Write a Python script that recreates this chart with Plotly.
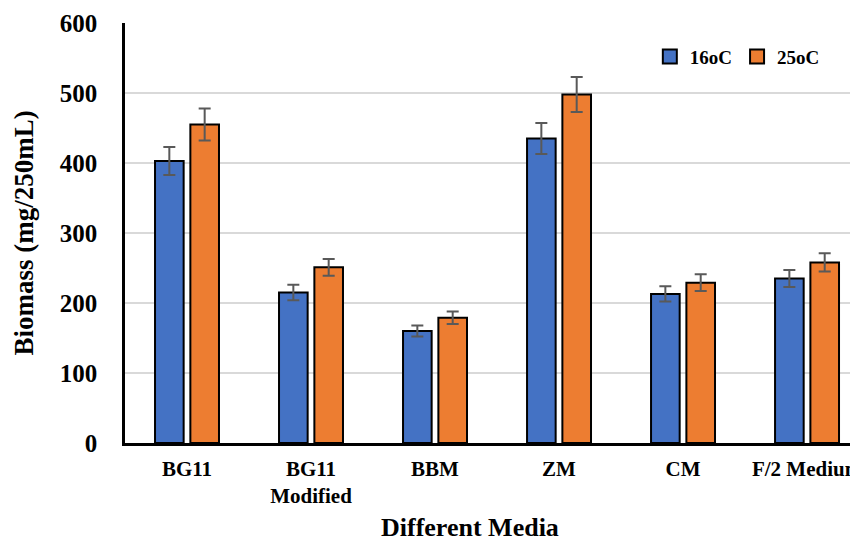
import plotly.graph_objects as go

categories = ["BG11", "BG11<br>Modified", "BBM", "ZM", "CM", "F/2 Medium"]
biomass_16 = [403, 215, 160, 435, 213, 235]
err_16 = [20, 11, 8, 22, 11, 12]
biomass_25 = [455, 251, 179, 498, 229, 258]
err_25 = [23, 12, 9, 25, 12, 13]
series_names = ["16oC", "25oC"]
y_ticks = [0, 100, 200, 300, 400, 500, 600]
x_title = "Different Media"
y_title = "Biomass (mg/250mL)"

BLUE = "#4472C4"
ORANGE = "#ED7D31"
FONT = "Liberation Serif"

fig = go.Figure()
for name, vals, errs, col in [(series_names[0], biomass_16, err_16, BLUE),
                              (series_names[1], biomass_25, err_25, ORANGE)]:
    fig.add_trace(go.Bar(
        x=categories, y=vals, name=name, showlegend=False,
        marker=dict(color=col, line=dict(color="black", width=2)),
        error_y=dict(type="data", array=errs, visible=True,
                     color="#595959", thickness=2, width=6),
    ))
    fig.add_trace(go.Scatter(
        x=[None], y=[None], mode="markers", name=name,
        marker=dict(symbol="square", size=14, color=col,
                    line=dict(color="black", width=2)),
    ))

fig.add_annotation(
    text=f"<b>{x_title}</b>", xref="paper", yref="paper",
    x=0.4707, y=-0.202, xanchor="center", yanchor="middle",
    showarrow=False, font=dict(size=26, family=FONT, color="black"),
)

fig.update_layout(
    width=850, height=533,
    margin=dict(l=117, r=0, t=15, b=98),
    paper_bgcolor="white", plot_bgcolor="white",
    barmode="group", bargap=0.43, bargroupgap=0.19,
    font=dict(family=FONT, color="black"),
    legend=dict(orientation="h", x=0.716, y=0.92, xanchor="left", yanchor="middle",
                font=dict(size=19, family=FONT, weight="bold"),
                bgcolor="rgba(0,0,0,0)", itemclick=False),
    xaxis=dict(
        type="category", range=[-0.5, 5.411], automargin=False,
        showline=True, linecolor="black", linewidth=2.5,
        ticks="", tickfont=dict(size=21, family=FONT, weight="bold"),
        ticklabelstandoff=5,
    ),
    yaxis=dict(
        range=[0, 600], tickvals=y_ticks, automargin=False,
        showline=True, linecolor="black", linewidth=2.5,
        showgrid=True, gridcolor="#D9D9D9", gridwidth=1.5,
        zeroline=False, ticks="",
        tickfont=dict(size=25, family=FONT, weight="bold"),
        ticklabelstandoff=20,
        title=dict(text=f"<b>{y_title}</b>", font=dict(size=27, family=FONT), standoff=19),
    ),
)

fig.write_html("out.html")
